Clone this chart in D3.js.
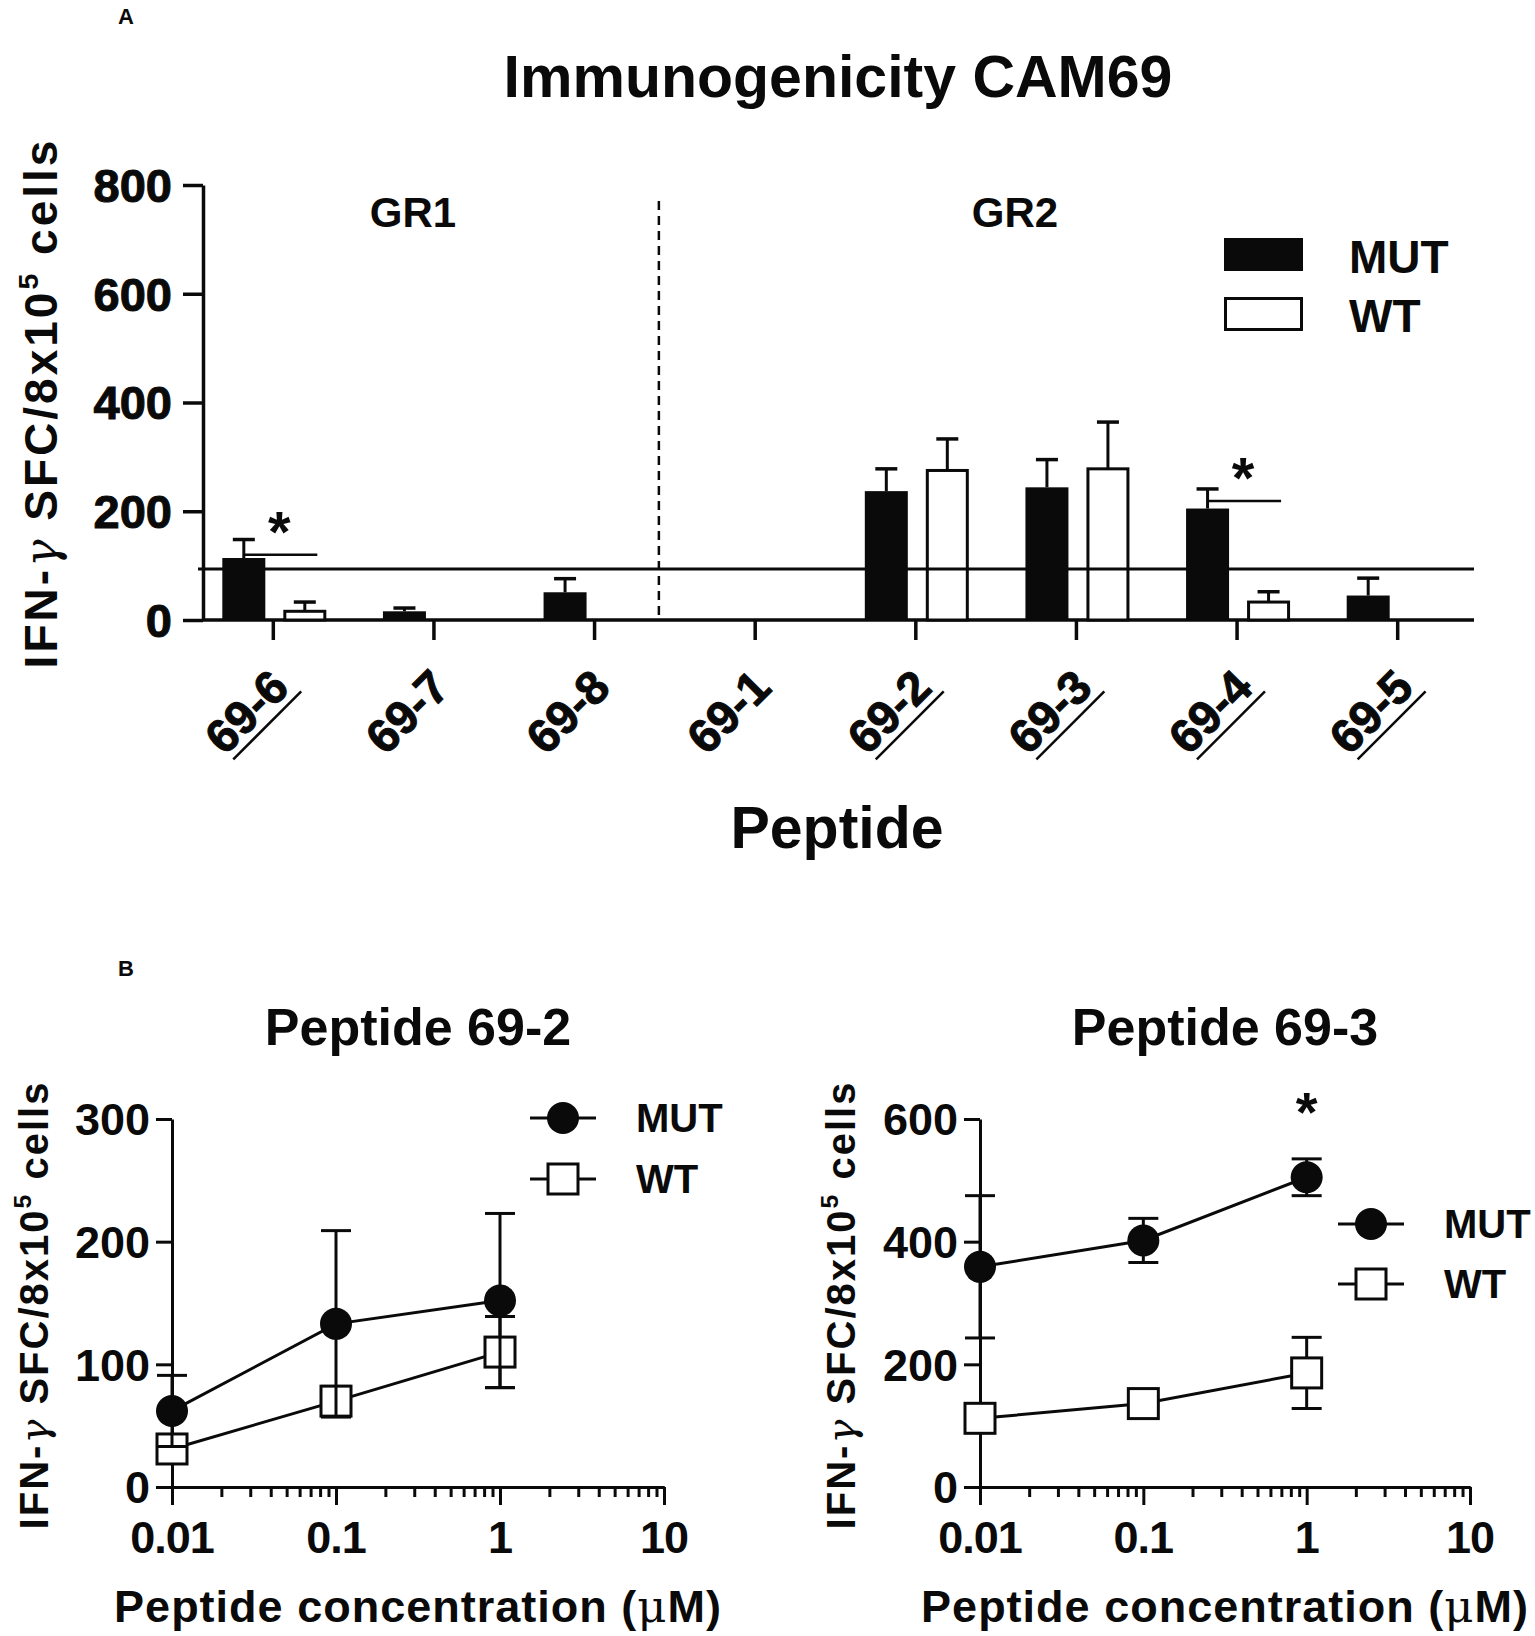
<!DOCTYPE html>
<html><head><meta charset="utf-8">
<script src="https://cdn.jsdelivr.net/npm/d3@7"></script>
<style>
body{margin:0;background:#fff}
svg{display:block}
text{font-family:"Liberation Sans",Arial,Helvetica,sans-serif;font-weight:bold;fill:#0a0a0a}
text.heavy{stroke:#0a0a0a;stroke-width:1px}
</style>
</head><body>
<svg id="c" width="1535" height="1636"></svg>
<script>
// ---------- Panel A data ----------
const peptides   = ["69-6","69-7","69-8","69-1","69-2","69-3","69-4","69-5"];
const underlined = ["69-6","69-2","69-3","69-4","69-5"];
const mutMean = [114, 16, 51, 0, 237, 244, 205, 45];
const mutSD   = [ 34,  6, 25, 0,  41,  51,  36, 32];
const wtMean  = [ 16,  0,  0, 0, 275, 278,  33,  0];
const wtSD    = [ 17,  0,  0, 0,  58,  86,  19,  0];
const threshold = 94;
const yTicksA = [0, 200, 400, 600, 800];
const sigPeps = ["69-6", "69-4"];
const sigLevels = [120, 219];
const groupLabels = ["GR1", "GR2"];
const seriesNames = ["MUT", "WT"];

// ---------- Panel B data ----------
const conc = [0.01, 0.1, 1];
const xTicksB = [0.01, 0.1, 1, 10];
const mut692 = [62, 133, 152];  const mut692SD = [29, 76, 71];
const wt692  = [31, 70, 110];   const wt692SD  = [8, 12, 29];
const mut693 = [359, 402, 505]; const mut693SD = [116, 36, 30];
const wt693  = [112, 136, 186]; const wt693SD  = [10, 10, 58];
const yTicks692 = [0, 100, 200, 300];
const yTicks693 = [0, 200, 400, 600];

const K = "#0a0a0a";
const svg = d3.select("#c");

function styleAxis(g, w) {
  g.selectAll("path,line").attr("stroke", K).attr("stroke-width", w);
  g.selectAll("text").remove();
}

function yLabel(x, y, size, ls) {
  const t = svg.append("text")
    .attr("transform", `translate(${x},${y}) rotate(-90)`)
    .attr("text-anchor", "middle")
    .style("font-size", size + "px").style("letter-spacing", ls + "px");
  t.append("tspan").text("IFN-");
  t.append("tspan").text("γ").style("font-family", '"DejaVu Serif",serif')
    .style("font-weight", "normal").style("font-style", "italic");
  t.append("tspan").text(" SFC/8x10");
  t.append("tspan").text("5").attr("dy", -0.42 * size).style("font-size", (size * 0.62) + "px");
  t.append("tspan").text(" cells").attr("dy", 0.42 * size);
}

// ================= PANEL A =================
svg.append("text").attr("x", 118).attr("y", 24).style("font-size", "22px").text("A");
svg.append("text").attr("x", 838).attr("y", 97).attr("text-anchor", "middle")
  .style("font-size", "59px").text("Immunogenicity CAM69");

const xA = d3.scaleBand().domain(peptides).range([193, 1478]);
const yA = d3.scaleLinear().domain([0, 800]).range([620, 185]);
const cxA = p => xA(p) + xA.bandwidth() / 2;
const axA = 203;

// y axis
const gyA = svg.append("g").attr("transform", `translate(${axA},0)`)
  .call(d3.axisLeft(yA).tickValues(yTicksA).tickSize(20).tickSizeOuter(0));
styleAxis(gyA, 3.5);
yTicksA.forEach(v => {
  svg.append("text").attr("class", "heavy").attr("x", 172).attr("y", yA(v)).attr("dy", "0.36em")
    .attr("text-anchor", "end").style("font-size", "47px").text(v);
});

// x axis
const gxA = svg.append("g").attr("transform", `translate(0,${yA(0)})`)
  .call(d3.axisBottom(xA).tickSize(20).tickSizeOuter(0));
styleAxis(gxA, 3.5);
gxA.select(".domain").remove();
svg.append("line").attr("x1", axA).attr("x2", 1474).attr("y1", yA(0)).attr("y2", yA(0))
  .attr("stroke", K).attr("stroke-width", 3.5);

// x tick labels (rotated)
peptides.forEach(p => {
  const g = svg.append("g").attr("transform", `translate(${cxA(p) + 18},690) rotate(-45)`);
  const t = g.append("text").attr("class", "heavy").attr("text-anchor", "end").style("font-size", "47px").text(p);
  if (underlined.includes(p)) {
    const L = t.node().getComputedTextLength();
    g.append("line").attr("x1", -L + 4).attr("x2", 6).attr("y1", 8).attr("y2", 8)
      .attr("stroke", K).attr("stroke-width", 2.5);
  }
});

// bars
peptides.forEach((p, i) => {
  const c = cxA(p);
  if (mutMean[i] > 0) {
    svg.append("rect").attr("x", c - 51).attr("width", 43)
      .attr("y", yA(mutMean[i])).attr("height", yA(0) - yA(mutMean[i])).attr("fill", K);
    if (mutSD[i] > 0) {
      const bx = c - 29.5;
      svg.append("line").attr("x1", bx).attr("x2", bx).attr("y1", yA(mutMean[i])).attr("y2", yA(mutMean[i] + mutSD[i]))
        .attr("stroke", K).attr("stroke-width", 3);
      svg.append("line").attr("x1", bx - 11).attr("x2", bx + 11).attr("y1", yA(mutMean[i] + mutSD[i])).attr("y2", yA(mutMean[i] + mutSD[i]))
        .attr("stroke", K).attr("stroke-width", 3.5);
    }
  }
  if (wtMean[i] > 0) {
    svg.append("rect").attr("x", c + 11.5).attr("width", 40)
      .attr("y", yA(wtMean[i])).attr("height", yA(0) - yA(wtMean[i]))
      .attr("fill", "#fff").attr("stroke", K).attr("stroke-width", 3);
    if (wtSD[i] > 0) {
      const bx = c + 31.5;
      svg.append("line").attr("x1", bx).attr("x2", bx).attr("y1", yA(wtMean[i])).attr("y2", yA(wtMean[i] + wtSD[i]))
        .attr("stroke", K).attr("stroke-width", 3);
      svg.append("line").attr("x1", bx - 11).attr("x2", bx + 11).attr("y1", yA(wtMean[i] + wtSD[i])).attr("y2", yA(wtMean[i] + wtSD[i]))
        .attr("stroke", K).attr("stroke-width", 3.5);
    }
  }
});

// threshold line
svg.append("line").attr("x1", 198).attr("x2", 1474).attr("y1", yA(threshold)).attr("y2", yA(threshold))
  .attr("stroke", K).attr("stroke-width", 3);

// group divider
const divX = (cxA("69-8") + cxA("69-1")) / 2 - 16;
svg.append("line").attr("x1", divX).attr("x2", divX).attr("y1", 201).attr("y2", yA(0))
  .attr("stroke", K).attr("stroke-width", 2.5).attr("stroke-dasharray", "9,6");
svg.append("text").attr("x", 413).attr("y", 227).attr("text-anchor", "middle").style("font-size", "42px").text(groupLabels[0]);
svg.append("text").attr("x", 1015).attr("y", 227).attr("text-anchor", "middle").style("font-size", "42px").text(groupLabels[1]);

// significance
sigPeps.forEach((p, i) => {
  const c = cxA(p), y = yA(sigLevels[i]);
  svg.append("line").attr("x1", c - 30).attr("x2", c + 44).attr("y1", y).attr("y2", y)
    .attr("stroke", K).attr("stroke-width", 2.5);
  svg.append("text").attr("x", c + 6).attr("y", y - 3).attr("text-anchor", "middle")
    .style("font-size", "58px").text("*");
});

// legend A
svg.append("rect").attr("x", 1224).attr("y", 238).attr("width", 79).attr("height", 33).attr("fill", K);
svg.append("rect").attr("x", 1225.5).attr("y", 298.5).attr("width", 76).attr("height", 31)
  .attr("fill", "#fff").attr("stroke", K).attr("stroke-width", 3);
svg.append("text").attr("x", 1349).attr("y", 273).style("font-size", "46px").text(seriesNames[0]);
svg.append("text").attr("x", 1349).attr("y", 332).style("font-size", "46px").text(seriesNames[1]);

yLabel(57, 403, 46, 3);
svg.append("text").attr("x", 837).attr("y", 848).attr("text-anchor", "middle")
  .style("font-size", "59px").text("Peptide");

// ================= PANEL B =================
svg.append("text").attr("x", 118).attr("y", 976).style("font-size", "22px").text("B");

function panelB(o) {
  const x = d3.scaleLog().domain([0.01, 10]).range(o.xr);
  const y = d3.scaleLinear().domain([0, o.ymax]).range([1487, 1119]);
  const ax = o.xr[0];
  svg.append("text").attr("x", o.tx).attr("y", 1045).attr("text-anchor", "middle")
    .style("font-size", "52px").text(o.title);
  // axes
  const gy = svg.append("g").attr("transform", `translate(${ax},0)`)
    .call(d3.axisLeft(y).tickValues(o.yTicks).tickSize(16).tickSizeOuter(0));
  styleAxis(gy, 3);
  o.yTicks.forEach(v => svg.append("text").attr("x", ax - 22).attr("y", y(v)).attr("dy", "0.36em")
    .attr("text-anchor", "end").style("font-size", "45px").text(v));
  const minor = x.ticks().filter(v => !xTicksB.some(m => Math.abs(m - v) / m < 1e-6));
  const gm = svg.append("g").attr("transform", `translate(0,1487)`)
    .call(d3.axisBottom(x).tickValues(minor).tickSize(10).tickSizeOuter(0));
  styleAxis(gm, 3);
  const gx = svg.append("g").attr("transform", `translate(0,1487)`)
    .call(d3.axisBottom(x).tickValues(xTicksB).tickSize(18).tickSizeOuter(0));
  styleAxis(gx, 3);
  xTicksB.forEach(v => svg.append("text").attr("x", x(v)).attr("y", 1553).attr("text-anchor", "middle")
    .style("font-size", "45px").style("letter-spacing", "-1px").text(String(v)));
  const xl = svg.append("text").attr("x", o.tx).attr("y", 1622).attr("text-anchor", "middle")
    .style("font-size", "45px").style("letter-spacing", "1px");
  xl.append("tspan").text("Peptide concentration (");
  xl.append("tspan").text("μ").style("font-family", '"DejaVu Serif",serif').style("font-weight", "normal");
  xl.append("tspan").text("M)");

  const line = d3.line().x((d, i) => x(conc[i])).y(d => y(d));
  function series(vals, sds, type) {
    vals.forEach((v, i) => {
      const px = x(conc[i]);
      svg.append("line").attr("x1", px).attr("x2", px).attr("y1", y(v - sds[i])).attr("y2", y(v + sds[i]))
        .attr("stroke", K).attr("stroke-width", 3);
      [v - sds[i], v + sds[i]].forEach(e => svg.append("line").attr("x1", px - 15).attr("x2", px + 15)
        .attr("y1", y(e)).attr("y2", y(e)).attr("stroke", K).attr("stroke-width", 3));
    });
    svg.append("path").datum(vals).attr("d", line).attr("fill", "none").attr("stroke", K).attr("stroke-width", 3);
    vals.forEach((v, i) => marker(x(conc[i]), y(v), type));
  }
  series(o.wt, o.wtSD, "sq");
  series(o.mut, o.mutSD, "ci");
  // legend
  [["ci", o.ly[0], seriesNames[0]], ["sq", o.ly[1], seriesNames[1]]].forEach(([tp, ly, name]) => {
    svg.append("line").attr("x1", o.lx - 33).attr("x2", o.lx + 33).attr("y1", ly).attr("y2", ly)
      .attr("stroke", K).attr("stroke-width", 3);
    marker(o.lx, ly, tp);
    svg.append("text").attr("x", o.lx + 73).attr("y", ly + 14).style("font-size", "40px").text(name);
  });
  if (o.star) svg.append("text").attr("x", x(o.star)).attr("y", 1099 + 32).attr("text-anchor", "middle")
    .style("font-size", "56px").text("*");
}
function marker(px, py, type) {
  if (type === "ci") svg.append("circle").attr("cx", px).attr("cy", py).attr("r", 16).attr("fill", K);
  else svg.append("rect").attr("x", px - 15).attr("y", py - 15).attr("width", 30).attr("height", 30)
    .attr("fill", "#fff").attr("stroke", K).attr("stroke-width", 3);
}

panelB({ xr: [172, 664], ymax: 300, yTicks: yTicks692, title: "Peptide 69-2", tx: 418,
  mut: mut692, mutSD: mut692SD, wt: wt692, wtSD: wt692SD, lx: 563, ly: [1118, 1179] });
panelB({ xr: [980, 1470], ymax: 600, yTicks: yTicks693, title: "Peptide 69-3", tx: 1225,
  mut: mut693, mutSD: mut693SD, wt: wt693, wtSD: wt693SD, lx: 1371, ly: [1224, 1284], star: 1 });

yLabel(48, 1305, 40, 2);
yLabel(855, 1305, 40, 2);
</script>
</body></html>
